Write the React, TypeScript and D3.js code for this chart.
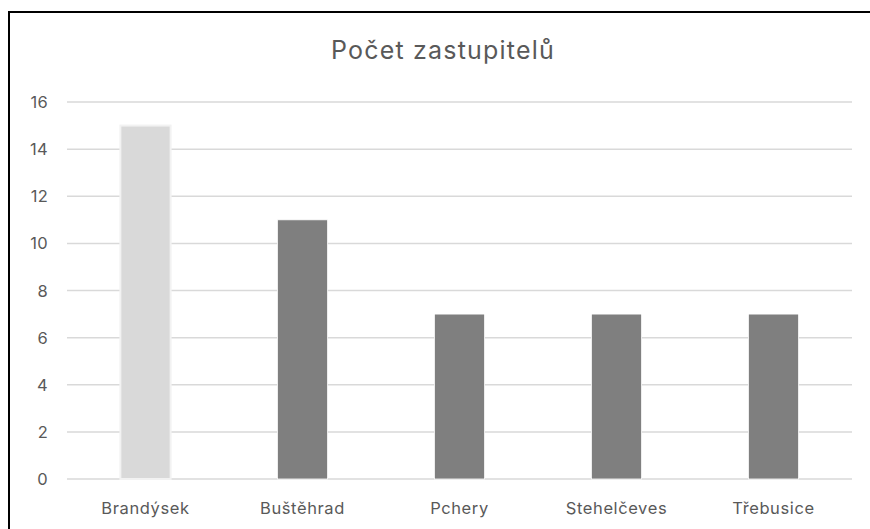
import React from "react";
import * as d3 from "d3";

const categories = ["Brandýsek", "Buštěhrad", "Pchery", "Stehelčeves", "Třebusice"];
const values = [15, 11, 7, 7, 7];
const yTicks = [0, 2, 4, 6, 8, 10, 12, 14, 16];
const title = "Počet zastupitelů";

export default function App() {
  const W = 870, H = 529;
  const left = 67, right = 852, top = 102, bottom = 479;
  const x = d3.scaleBand<string>().domain(categories).range([left, right]).paddingInner(0.68).paddingOuter(0.34);
  const y = d3.scaleLinear().domain([0, 16]).range([bottom, top]);
  const font = "Inter, 'Open Sans', sans-serif";
  return (
    <svg width={W} height={H} style={{ position: "fixed", left: 0, top: 0 }}>
      <rect x={0} y={0} width={W} height={H} fill="#fff" />
      <line x1={9} x2={W} y1={12} y2={12} stroke="#000" strokeWidth={2} />
      <line x1={9} x2={9} y1={11} y2={H} stroke="#000" strokeWidth={2} />
      <text x={443} y={59} textAnchor="middle" fontFamily={font} fontSize={25} letterSpacing={1.2} fill="#595959">{title}</text>
      {yTicks.map((t) => (
        <g key={t}>
          <line x1={left} x2={right} y1={y(t)} y2={y(t)} stroke="#d9d9d9" strokeWidth={1.5} />
          <text x={48} y={y(t) + 6} textAnchor="end" fontFamily={font} fontSize={16.5} letterSpacing={0.3} fill="#595959">{t}</text>
        </g>
      ))}
      {categories.map((c, i) => (
        <rect key={c} x={x(c)} y={y(values[i])} width={x.bandwidth()} height={bottom - y(values[i])}
          fill={i === 0 ? "#d9d9d9" : "#7f7f7f"} stroke={i === 0 ? "#f2f2f2" : "#ffffff"} strokeWidth={i === 0 ? 2 : 0.8} />
      ))}
      {categories.map((c) => (
        <text key={c} x={(x(c) as number) + x.bandwidth() / 2} y={514} textAnchor="middle" fontFamily={font} fontSize={16.5} letterSpacing={0.6} fill="#595959">{c}</text>
      ))}
    </svg>
  );
}
